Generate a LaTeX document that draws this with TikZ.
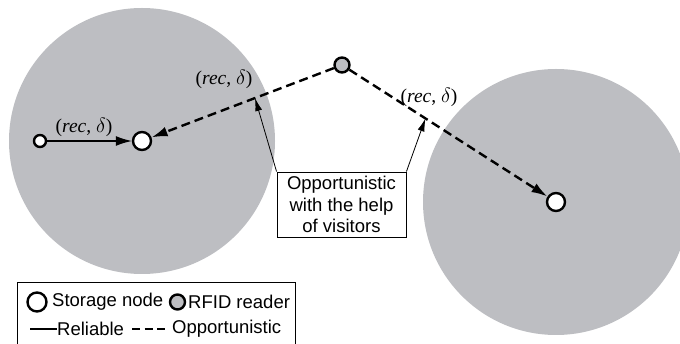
\documentclass[tikz,border=0pt]{standalone}
\usepackage{fontspec}
\setmainfont{Liberation Serif}
\setsansfont{Liberation Sans}
\usepackage{tikz}
\usetikzlibrary{arrows.meta, positioning, calc}
\definecolor{zonegray}{RGB}{189, 190, 194}
\tikzset{
    storage/.style={circle, draw, line width=2.4pt, fill=white, minimum size=18pt, inner sep=0pt},
    reader/.style={circle, draw, line width=2.4pt, fill=zonegray, minimum size=15pt, inner sep=0pt},
    tag/.style={circle, draw, line width=2.4pt, fill=white, minimum size=12pt, inner sep=0pt},
    reliable/.style={draw, line width=1.3pt, -{Latex[length=16pt, width=10pt]}},
    opport/.style={draw, line width=2.4pt, dash pattern=on 9pt off 5pt, -{Latex[length=16pt, width=10pt]}},
    pointer/.style={draw, line width=0.8pt, -{Latex[length=13pt, width=7pt]}},
    linklabel/.style={font=\fontsize{19.5}{22}\selectfont},
    boxtext/.style={font=\sffamily\fontsize{18.5}{21.5}\selectfont}
}

\begin{document}
\begin{tikzpicture}[x=1pt, y=-1pt]
    \clip (0,0) rectangle (680,344);

    % --- COVERAGE ZONES ---
    \fill[zonegray] (142,141) circle (133);
    \fill[zonegray] (556,202) circle (133);

    % --- NODES ---
    \node[tag] (tag) at (40,141) {};
    \node[storage] (left) at (142,141) {};
    \node[storage] (right) at (556,202) {};
    \node[reader] (rfid) at (342,65) {};

    % links
    \draw[reliable] (tag) -- (left);
    \draw[opport] (rfid) -- (left);
    \draw[opport] (rfid) -- (right);

    \node[linklabel] (l1) at (84,127) {(\textit{rec}, $\delta$)};
    \node[linklabel] (l2) at (224,79) {(\textit{rec}, $\delta$)};
    \node[linklabel] (l3) at (429,97) {(\textit{rec}, $\delta$)};

    % --- VISITORS NOTE ---
    \node[draw, line width=0.9pt, boxtext, align=center, minimum width=129pt, minimum height=65pt, inner sep=0pt] (note) at (341.5,204.5)
        {Opportunistic\\ with the help\\ of visitors};
    \coordinate (hitL) at ($(rfid)!0.435!(left)$);
    \coordinate (hitR) at ($(rfid)!0.39!(right)$);
    \draw[pointer] (note.north west) -- (hitL);
    \draw[pointer] (note.north east) -- (hitR);

    % --- LEGEND ---
    \draw[line width=0.9pt] (17,282) rectangle (295,360);
    \node[storage, minimum size=19pt] (legS) at (37,302) {};
    \node[boxtext, anchor=west, inner sep=0pt] (legStxt) at (52,302) {Storage node};
    \node[reader] (legR) at (177.5,302) {};
    \node[boxtext, anchor=west, inner sep=0pt] (legRtxt) at (188,302) {RFID reader};

    \coordinate (legA) at (30,329);
    \node[boxtext, anchor=west, inner sep=0pt] (legAtxt) at (57,329) {Reliable};
    \draw[line width=1.1pt] (legA) -- (legAtxt.west);
    \coordinate (legB) at (132,329);
    \node[boxtext, anchor=west, inner sep=0pt] (legBtxt) at (172,329) {Opportunistic};
    \draw[line width=2.2pt, dash pattern=on 8pt off 4.5pt] (legB) -- ([xshift=-5pt]legBtxt.west);
\end{tikzpicture}
\end{document}
